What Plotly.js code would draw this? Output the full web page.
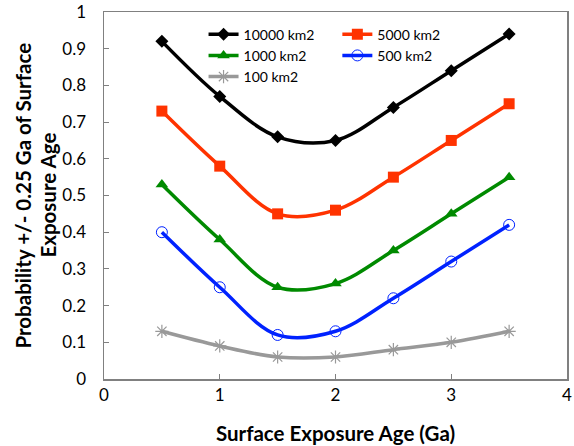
<!DOCTYPE html>
<html>
<head>
<meta charset="utf-8">
<script src="https://cdn.plot.ly/plotly-3.0.1.min.js"></script>
<style>html,body{margin:0;padding:0;background:#fff}#chart{width:574px;height:446px}</style>
</head>
<body>
<div id="chart"></div>
<script>
const ages = [0.5, 1, 1.5, 2, 2.5, 3, 3.5];
const p10000 = [0.92, 0.77, 0.66, 0.65, 0.74, 0.84, 0.94];
const p5000 = [0.73, 0.58, 0.45, 0.46, 0.55, 0.65, 0.75];
const p1000 = [0.53, 0.38, 0.25, 0.26, 0.35, 0.45, 0.55];
const p500 = [0.40, 0.25, 0.12, 0.13, 0.22, 0.32, 0.42];
const p100 = [0.13, 0.09, 0.06, 0.06, 0.08, 0.10, 0.13];
const seriesNames = ['10000 km2', '5000 km2', '1000 km2', '500 km2', '100 km2'];
const xTicks = [0, 1, 2, 3, 4];
const yTicks = [0, 0.1, 0.2, 0.3, 0.4, 0.5, 0.6, 0.7, 0.8, 0.9, 1];
const yTickText = ['0', '0.1', '0.2', '0.3', '0.4', '0.5', '0.6', '0.7', '0.8', '0.9', '1'];
const yTitleLines = ['Probability +/- 0.25 Ga of Surface', 'Exposure Age'];
const xTitle = 'Surface Exposure Age (Ga)';

const FONT = 'Lato, "Open Sans", sans-serif';
const PAD = '\u00a0\u00a0\u00a0';
function tr(y, name, color, symbol, msize, legend, mextra) {
  return {
    x: ages, y: y, name: name, type: 'scatter', mode: 'lines+markers',
    line: {color: color, width: 3.5, shape: 'spline', smoothing: 1},
    marker: Object.assign({symbol: symbol, size: msize, color: color}, mextra || {}),
    legend: legend
  };
}
const data = [
  tr(p10000, seriesNames[0], '#000000', 'diamond', 10, 'legend'),
  tr(p1000, seriesNames[2], '#008a00', 'triangle-up', 11, 'legend'),
  tr(p100, seriesNames[4], '#999999', 'asterisk-open', 11, 'legend', {line: {color: '#999999', width: 1.2}}),
  tr(p5000, seriesNames[1], '#ff3300', 'square', 11, 'legend2'),
  tr(p500, seriesNames[3], '#0022ff', 'circle-open', 11, 'legend2', {line: {color: '#2244ff', width: 1}})
];
const legBase = {
  font: {family: FONT, size: 14, color: '#000'},
  bgcolor: 'rgba(0,0,0,0)', borderwidth: 0,
  xanchor: 'left', yanchor: 'top', traceorder: 'normal', itemwidth: 30, tracegroupgap: 0
};
function yTitleAnn(text, xpos) {
  return {
    text: '<b>' + text + '</b>', textangle: -90, showarrow: false,
    xref: 'paper', yref: 'paper', x: xpos, y: 0.5, xanchor: 'center', yanchor: 'middle',
    font: {family: FONT, size: 20.5, color: '#000'}
  };
}
const layout = {
  width: 574, height: 446,
  margin: {l: 104, r: 7, t: 12, b: 67},
  paper_bgcolor: '#fff', plot_bgcolor: '#fff',
  font: {family: FONT, size: 14, color: '#000'},
  showlegend: true,
  legend: Object.assign({x: 0.215, y: 0.982}, legBase),
  legend2: Object.assign({x: 0.504, y: 0.982}, legBase),
  xaxis: {
    range: [0, 4], tickvals: xTicks, ticktext: xTicks.map(String),
    ticks: 'inside', ticklen: 5, tickcolor: '#808080',
    showline: true, linecolor: '#808080', linewidth: 1.5, mirror: true,
    showgrid: false, zeroline: false,
    tickfont: {family: FONT, size: 17},
    title: {text: '<b>' + xTitle + '</b>', font: {family: FONT, size: 20.5}, standoff: 22}
  },
  yaxis: {
    range: [0, 1], tickvals: yTicks, ticktext: yTickText.map(t => t + PAD),
    ticks: 'inside', ticklen: 5, tickcolor: '#808080',
    showline: true, linecolor: '#808080', linewidth: 1.5, mirror: true,
    showgrid: false, zeroline: false,
    tickfont: {family: FONT, size: 17}
  },
  annotations: [yTitleAnn(yTitleLines[0], -0.177), yTitleAnn(yTitleLines[1], -0.123)]
};
Plotly.newPlot('chart', data, layout, {displayModeBar: false, staticPlot: true});
</script>
</body>
</html>
